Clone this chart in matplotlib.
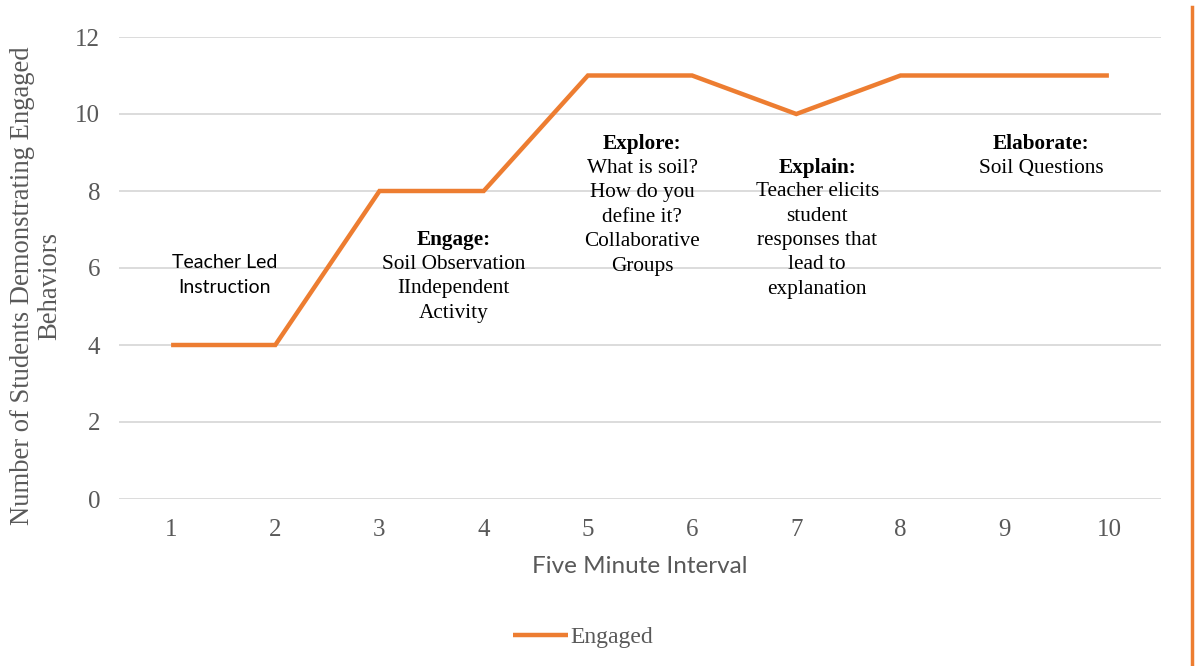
import matplotlib.pyplot as plt

# data
intervals = [1, 2, 3, 4, 5, 6, 7, 8, 9, 10]
engaged = [4, 4, 8, 8, 11, 11, 10, 11, 11, 11]
y_ticks = [0, 2, 4, 6, 8, 10, 12]

# phase annotations: (x, y top, title, body)
phases = [
    (3.71, 6.98, "Engage:", "Soil Observation\nIIndependent\nActivity"),
    (5.52, 9.47, "Explore:", "What is soil?\nHow do you\ndefine it?\nCollaborative\nGroups"),
    (7.20, 8.87, "Explain:", "Teacher elicits\nstudent\nresponses that\nlead to\nexplanation"),
    (9.35, 9.47, "Elaborate:", "Soil Questions"),
]

orange = "#ED7D31"
grey = "#595959"
serif = "Liberation Serif"
sans = "Lato"

fig = plt.figure(figsize=(11.99, 6.66), dpi=100)
ax = fig.add_axes([119 / 1199, 167 / 666, (1161 - 119) / 1199, (499 - 37) / 666])

ax.plot(intervals, engaged, color=orange, lw=3.2, label="Engaged",
        solid_joinstyle="miter", solid_capstyle="butt", zorder=3)

ax.set_xlim(0.5, 10.5)
ax.set_ylim(0, 12)
ax.set_yticks(y_ticks)
ax.set_xticks(intervals)
ax.grid(axis="y", color="#D9D9D9", lw=1.3)
ax.set_axisbelow(True)
for s in ax.spines.values():
    s.set_visible(False)
ax.tick_params(length=0, labelsize=18, labelcolor=grey)
ax.tick_params(axis="x", pad=14.5)
ax.tick_params(axis="y", pad=13.5)
for lab in ax.get_xticklabels() + ax.get_yticklabels():
    lab.set_fontfamily(serif)

ax.set_xlabel("Five Minute Interval", fontsize=17.5, color=grey, family=sans)
ax.xaxis.set_label_coords(0.5, (666 - 556 - 167) / 462)

fig.text(36 / 1199, 1 - 286 / 666, "Number of Students Demonstrating Engaged\nBehaviors",
         rotation=90, ha="center", va="center", multialignment="center",
         fontsize=19.2, color=grey, family=serif, linespacing=1.1)

# annotations
ax.text(1.51, 5.82, "Teacher Led\nInstruction", ha="center", va="center",
        fontsize=14, family=sans, linespacing=1.6)
for x, ytop, title, body in phases:
    ax.text(x, ytop, title, ha="center", va="top", fontsize=15.3,
            family=serif, fontweight="bold")
    ax.annotate(body, xy=(x, ytop), xytext=(0, -17.7), textcoords="offset points",
                ha="center", va="top", fontsize=15.3, family=serif, linespacing=1.39)

leg = ax.legend(loc="center", bbox_to_anchor=(583 / 1199, 29 / 666),
                bbox_transform=fig.transFigure, frameon=False, handlelength=2.3,
                handletextpad=0.1, prop={"family": serif, "size": 17})
for t in leg.get_texts():
    t.set_color(grey)

# orange rule at right edge
fig.add_artist(plt.Line2D([1192 / 1199, 1192 / 1199], [0, 659 / 666],
                          transform=fig.transFigure, color=orange, lw=2.5))

fig.savefig("out.png", dpi=100)
